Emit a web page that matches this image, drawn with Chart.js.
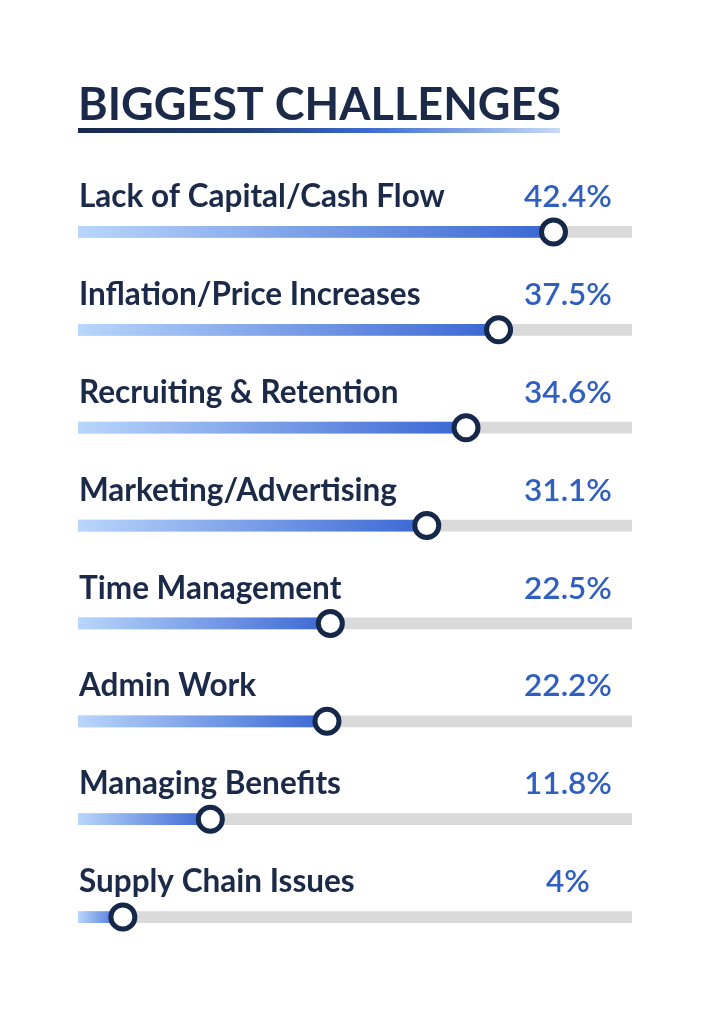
<!DOCTYPE html>
<html>
<head>
<meta charset="utf-8">
<script src="https://cdn.jsdelivr.net/npm/chart.js@4.4.1/dist/chart.umd.min.js"></script>
<style>
  html, body { margin: 0; padding: 0; background: #ffffff; }
  #wrap { width: 702px; height: 1024px; position: relative; }
</style>
</head>
<body>
<div id="wrap"><canvas id="c" width="702" height="1024"></canvas></div>
<script>
const titleText = 'BIGGEST CHALLENGES';
const categories = [
  'Lack of Capital/Cash Flow',
  'Inflation/Price Increases',
  'Recruiting & Retention',
  'Marketing/Advertising',
  'Time Management',
  'Admin Work',
  'Managing Benefits',
  'Supply Chain Issues'
];
const values = [42.4, 37.5, 34.6, 31.1, 22.5, 22.2, 11.8, 4];
const valueLabels = ['42.4%', '37.5%', '34.6%', '31.1%', '22.5%', '22.2%', '11.8%', '4%'];
const scaleMax = 49.4;
const trackValues = categories.map(() => scaleMax);

const NAVY = '#1b2a48';
const BLUE = '#2f5fbf';
const FONT = 'Lato, "Open Sans", sans-serif';

function barGradient(ctx) {
  const chart = ctx.chart;
  const xs = chart.scales.x;
  if (!chart.chartArea || !xs) return '#3b68d4';
  const v = ctx.raw;
  const x0 = xs.getPixelForValue(0);
  const x1 = xs.getPixelForValue(v);
  if (!isFinite(x0) || !isFinite(x1) || x1 - x0 < 1) return '#3b68d4';
  const g = chart.ctx.createLinearGradient(x0, 0, x1, 0);
  g.addColorStop(0, '#b9d6fb');
  g.addColorStop(1, '#3a66d3');
  return g;
}

const labelPlugin = {
  id: 'rowLabels',
  afterDatasetsDraw(chart) {
    const ctx = chart.ctx;
    const ys = chart.scales.y;
    const left = chart.chartArea.left;
    ctx.save();
    ctx.textBaseline = 'middle';
    categories.forEach((cat, i) => {
      const y = ys.getPixelForValue(i) - 35;
      ctx.font = 'bold 31.5px ' + FONT;
      ctx.fillStyle = NAVY;
      ctx.textAlign = 'left';
      ctx.fillText(cat, left + 1, y);
      ctx.fillStyle = BLUE;
      ctx.font = '600 31.5px ' + FONT;
      ctx.textAlign = 'center';
      ctx.fillText(valueLabels[i], 568, y);
    });
    ctx.restore();
  },
  afterDraw(chart) {
    // title underline
    const ctx = chart.ctx;
    const left = chart.chartArea.left;
    const right = left + 482;
    const g = ctx.createLinearGradient(left, 0, right, 0);
    g.addColorStop(0, '#18284a');
    g.addColorStop(0.35, '#22407a');
    g.addColorStop(0.6, '#3a6bd2');
    g.addColorStop(1, '#c7daf7');
    ctx.save();
    ctx.fillStyle = g;
    ctx.fillRect(left, 128, right - left, 5);
    ctx.restore();
  }
};

new Chart(document.getElementById('c'), {
  type: 'bar',
  data: {
    labels: categories,
    datasets: [
      {
        type: 'line',
        label: 'marker',
        data: values,
        showLine: false,
        pointRadius: 12,
        pointHoverRadius: 12,
        pointBorderWidth: 5,
        pointBackgroundColor: '#ffffff',
        pointBorderColor: '#15284a',
        order: 0
      },
      {
        label: 'value',
        data: values,
        backgroundColor: barGradient,
        barThickness: 11,
        grouped: false,
        order: 1
      },
      {
        label: 'track',
        data: trackValues,
        backgroundColor: '#dadada',
        barThickness: 11,
        grouped: false,
        order: 2
      }
    ]
  },
  options: {
    indexAxis: 'y',
    responsive: false,
    animation: false,
    layout: { padding: { left: 78, right: 70, top: 78, bottom: 58 } },
    scales: {
      x: { display: false, min: 0, max: scaleMax },
      y: { display: false }
    },
    plugins: {
      legend: { display: false },
      tooltip: { enabled: false },
      title: {
        display: true,
        text: titleText,
        align: 'start',
        color: NAVY,
        font: { family: FONT, size: 45, weight: 'bold' },
        padding: { top: 0, bottom: 51 }
      }
    }
  },
  plugins: [labelPlugin]
});
</script>
</body>
</html>
